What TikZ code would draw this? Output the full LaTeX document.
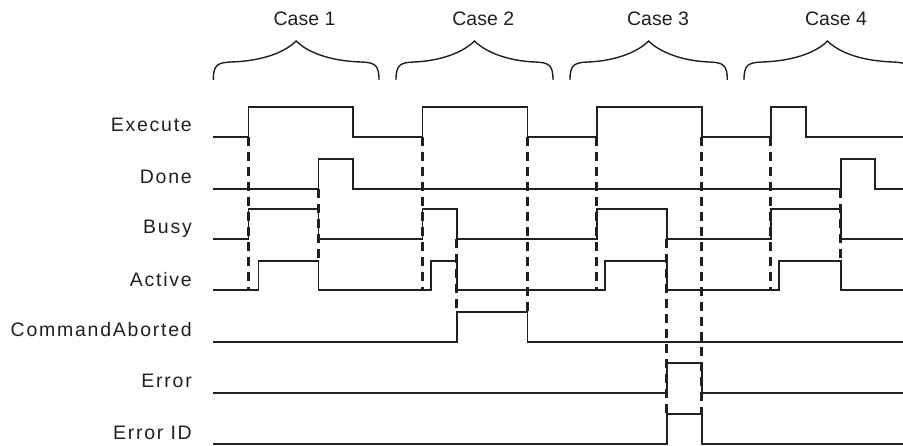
\documentclass[tikz,border=0pt]{standalone}
\usepackage{fontspec}
\setmainfont{Liberation Sans}
\newfontfamily\lblfont[LetterSpace=9]{Liberation Sans}
\definecolor{sigcolor}{HTML}{231F20}
\tikzset{
	sigline/.style={
		draw=sigcolor,
		line width=1.6pt
	},
	cutline/.style={
		draw=sigcolor,
		line width=2.6pt,
		dash pattern=on 9pt off 6pt
	},
	bracestyle/.style={
		draw=sigcolor,
		line width=1.4pt
	},
	siglabel/.style={
		anchor=base east,
		inner sep=0pt,
		text=sigcolor,
		font=\lblfont\fontsize{19.5}{20}\selectfont
	},
	caselabel/.style={
		anchor=base,
		inner sep=0pt,
		text=sigcolor,
		font=\fontsize{19.5}{20}\selectfont
	}
}
\newcommand{\caseBrace}[2]{%
	\draw[bracestyle] (#1,80) .. controls (#1,65) and ({#1+4},62.5) .. ({#1+18},62)
	.. controls ({(#1+#2)/2-35},61) and ({(#1+#2)/2-12},53) .. ({(#1+#2)/2},41)
	.. controls ({(#1+#2)/2+12},53) and ({(#1+#2)/2+35},61) .. ({#2-18},62)
	.. controls ({#2-4},62.5) and (#2,65) .. (#2,80);}

\begin{document}
\begin{tikzpicture}[x=1pt, y=-1pt]
	
	\clip[use as bounding box] (0,0) rectangle (903,445);
	
	% Cases
	\node[caselabel] (case1) at (304.5,25) {Case 1};
	\node[caselabel] (case2) at (483.3,25) {Case 2};
	\node[caselabel] (case3) at (658,25) {Case 3};
	\node[caselabel] (case4) at (836,25) {Case 4};
	\foreach \xa/\xb in {213.3/379, 396/553, 570/727.3, 744/911}
		\caseBrace{\xa}{\xb};
	
	% Signal names
	\node[siglabel] (execute) at (192,131) {Execute};
	\node[siglabel] (done) at (192,183) {Done};
	\node[siglabel] (busy) at (192,233) {Busy};
	\node[siglabel] (active) at (192,286) {Active};
	\node[siglabel] (aborted) at (192,336) {CommandAborted};
	\node[siglabel] (error) at (192,387) {Error};
	\node[siglabel] (errorid) at (192,439) {Error ID};
	
	% Signals
	% Execute
	\draw[sigline] (213.3,137) -| (248.3,107) -| (352.7,137) -| (422.3,107) -| (527.3,137)
		-| (596.7,107) -| (701.7,137) -| (770.7,107) -| (805.7,137) -- (903,137);
	% Done
	\draw[sigline] (213.3,189) -| (318.3,159) -| (352.7,189) -| (840.7,159) -| (875,189) -- (903,189);
	% Busy
	\draw[sigline] (213.3,239) -| (248.3,209) -| (318.3,239) -| (422.3,209) -| (456.7,239)
		-| (596.7,209) -| (666.7,239) -| (770.7,209) -| (840.7,239) -- (903,239);
	% Active
	\draw[sigline] (213.3,290) -| (258.3,261) -| (318.3,290) -| (430.7,261) -| (456.7,290)
		-| (605,261) -| (666.7,290) -| (779,261) -| (840.7,290) -- (903,290);
	% CommandAborted
	\draw[sigline] (213.3,342) -| (456.7,312) -| (527.3,342) -- (903,342);
	% Error
	\draw[sigline] (213.3,393) -| (666.7,363) -| (701.7,393) -- (903,393);
	% Error ID
	\draw[sigline] (213.3,444) -| (666.7,414) -| (701.7,444) -- (903,444);
	
	% Edges
	\foreach \x/\ya/\yb in {248.3/137/290, 318.3/189/261, 422.3/137/290, 456.7/239/312,
		527.3/137/312, 596.7/137/290, 666.7/239/414, 701.7/137/414, 770.7/137/290, 840.7/189/261}
		\draw[cutline] (\x,\ya) -- (\x,\yb);
	
\end{tikzpicture}
\end{document}
